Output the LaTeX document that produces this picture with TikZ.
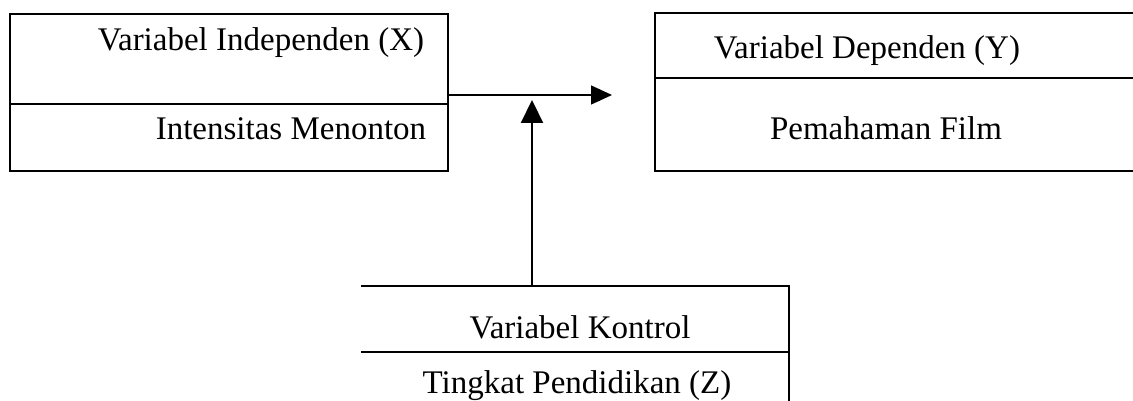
\documentclass[tikz,border=0pt]{standalone}
\usepackage{fontspec}
\setmainfont{Liberation Serif}
\usetikzlibrary{arrows.meta}
\begin{document}
\begin{tikzpicture}[x=1pt,y=-1pt,>={Triangle[length=21pt,width=19pt]},line width=2pt]
\tikzset{
  varbox/.style={draw,shape=rectangle,inner sep=0pt},
  vartext/.style={anchor=base,inner sep=0pt,font=\fontsize{33}{36}\selectfont}
}
\useasboundingbox (0,0) rectangle (1133,401);
\clip (0,0) rectangle (1133,401);
% boxes
\node[varbox,minimum width=438pt,minimum height=157pt] (xbox) at (229,92.5) {};
\node[varbox,minimum width=495pt,minimum height=158pt] (ybox) at (902.5,92) {};
\node[varbox,draw=none,minimum width=426pt,minimum height=133pt] (zbox) at (575,353.5) {};
\draw (zbox.north west) -- (zbox.north east) -- (zbox.south east);
% dividers
\draw[line width=1.6pt] (xbox.west |- 0,104) -- (xbox.east |- 0,104);
\draw[line width=1.6pt] (ybox.west |- 0,78) -- (ybox.east |- 0,78);
\draw[line width=1.6pt] (zbox.west |- 0,352) -- (zbox.east |- 0,352);
% texts
\node[vartext] (xhead) at (261,51) {Variabel Independen (X)};
\node[vartext] (xname) at (291,140) {Intensitas Menonton};
\node[vartext] (yhead) at (867,59) {Variabel Dependen (Y)};
\node[vartext] (yname) at (886,140) {Pemahaman Film};
\node[vartext] (zhead) at (580,338) {Variabel Kontrol};
\node[vartext] (zname) at (577,393) {Tingkat Pendidikan (Z)};
% arrows
\coordinate (xtip) at (612,95);
\coordinate (ztip) at (532,100);
\draw[->,line width=1.3pt] (xbox.east |- xtip) -- (xtip);
\draw[-{Triangle[length=23pt,width=22pt]},line width=2.2pt] (ztip |- zbox.north) -- (ztip);
\end{tikzpicture}
\end{document}
